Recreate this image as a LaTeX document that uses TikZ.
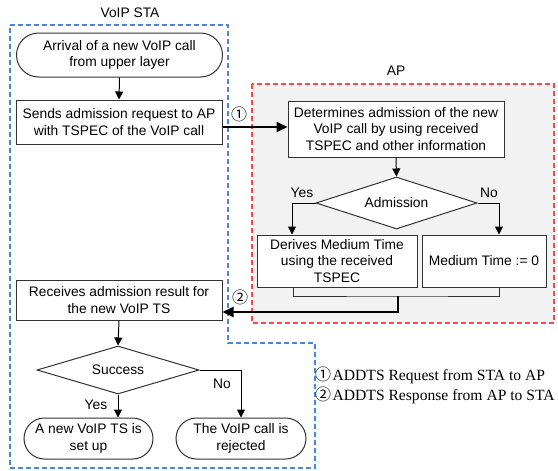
\documentclass[tikz,border=0pt]{standalone}
\usepackage{fontspec}
\setmainfont{Liberation Sans}
\newfontfamily\serifF{Liberation Serif}
\newfontfamily\cjk{Noto Sans CJK SC}
\usetikzlibrary{arrows.meta,shapes.geometric,shapes.misc}
\definecolor{stablue}{RGB}{74,134,214}
\definecolor{apred}{RGB}{255,70,70}
\definecolor{apgray}{RGB}{242,242,242}
\definecolor{edge}{RGB}{50,50,50}
\begin{document}
\begin{tikzpicture}[x=1pt,y=-1pt,
  font=\fontsize{13.8}{16.7}\selectfont,
  box/.style={draw=edge, line width=1pt, fill=white, rectangle, inner sep=0pt, align=center},
  term/.style={draw=edge, line width=1pt, fill=white, rounded rectangle, inner sep=0pt, align=center},
  dia/.style={draw=edge, line width=1pt, fill=white, diamond, aspect=3, inner sep=0pt, align=center},
  arr/.style={draw=black, line width=1pt, -{Triangle[length=8pt,width=8pt]}},
  arrbig/.style={draw=black, line width=1.8pt, -{Triangle[length=11pt,width=10pt]}},
  ln/.style={draw=edge, line width=1pt},
  lbl/.style={inner sep=0pt},
  cnum/.style={inner sep=0pt, font=\cjk\fontsize{16}{16}\selectfont}
]
\useasboundingbox (0,0) rectangle (558,471);
% containers
\path[fill=apgray, draw=apred, line width=1.1pt, dash pattern=on 5pt off 3pt] (252,84) rectangle (554,323);
\draw[stablue, line width=1.1pt, dash pattern=on 5pt off 3pt] (10,25) -- (228,25) -- (228,343) -- (315,343) -- (315,468) -- (10,468) -- cycle;
\node[lbl] (tsta) at (130,13) {VoIP STA};
\node[lbl] (tap) at (396,71) {AP};

% STA nodes
\node[term, minimum width=206pt, minimum height=44pt] (t1) at (119.5,55) {Arrival of a new VoIP call\\from upper layer};
\node[box, minimum width=206pt, minimum height=44pt] (b1) at (119,122) {Sends admission request to AP\\with TSPEC of the VoIP call};
\node[box, minimum width=206pt, minimum height=40pt] (b5) at (119,300) {Receives admission result for\\the new VoIP TS};
\node[dia, minimum width=162pt, minimum height=48pt] (d2) at (118,370) {Success};
\node[term, minimum width=129pt, minimum height=41pt] (t2) at (88.5,438.5) {A new VoIP TS is\\set up};
\node[term, minimum width=130pt, minimum height=41pt] (t3) at (241,438.5) {The VoIP call is\\rejected};

% AP nodes
\node[box, minimum width=216pt, minimum height=56pt] (b2) at (396,129) {Determines admission of the new\\VoIP call by using received\\TSPEC and other information};
\node[dia, minimum width=161pt, minimum height=52pt] (d1) at (396.5,203) {Admission};
\node[box, minimum width=160pt, minimum height=52pt] (b3) at (337,261) {Derives Medium Time\\using the received\\TSPEC};
\node[box, minimum width=124pt, minimum height=52pt] (b4) at (484,261) {Medium Time := 0};

% connectors STA
\draw[arr] (t1.south) -- (b1.north);
\coordinate (r1) at ([yshift=-5pt]b1.east);
\draw[arrbig] (r1) -- (b2.west |- r1);
\node[cnum] (n1) at (239,114) {①};
\draw[arr] (b5.south) -- (d2.north);
\draw[arr] (d2.south) -- (d2.south |- t2.north);
\draw[arr] (d2.east) -| (t3.north);
\node[lbl] (y2) at (96,405) {Yes};
\node[lbl] (no2) at (222,384) {No};

% connectors AP
\draw[arr] (b2.south) -- (d1.north);
\draw[arr] (d1.west) -| ([xshift=-45pt]b3.north);
\draw[arr] (d1.east) -| ([xshift=15pt]b4.north);
\node[lbl] (y1) at (302,193) {Yes};
\node[lbl] (no1) at (489,193) {No};
\coordinate (m) at (398,296);
\draw[ln] ([xshift=-44pt]b3.south) |- (m) -| ([xshift=15pt]b4.south);
\coordinate (r2) at ([yshift=-12pt]b5.east);
\draw[arrbig] (m) |- (r2);
\node[cnum] (n2) at (240,297) {②};

% legend
\node[lbl, anchor=west, font=\serifF\fontsize{15.6}{15.6}\selectfont] (lg1) at (315,375) {{\cjk\fontsize{16}{16}\selectfont ①}\kern1.5pt ADDTS Request from STA to AP};
\node[lbl, anchor=west, font=\serifF\fontsize{15.6}{15.6}\selectfont] (lg2) at (315,395) {{\cjk\fontsize{16}{16}\selectfont ②}\kern1.5pt ADDTS Response from AP to STA};
\end{tikzpicture}
\end{document}
